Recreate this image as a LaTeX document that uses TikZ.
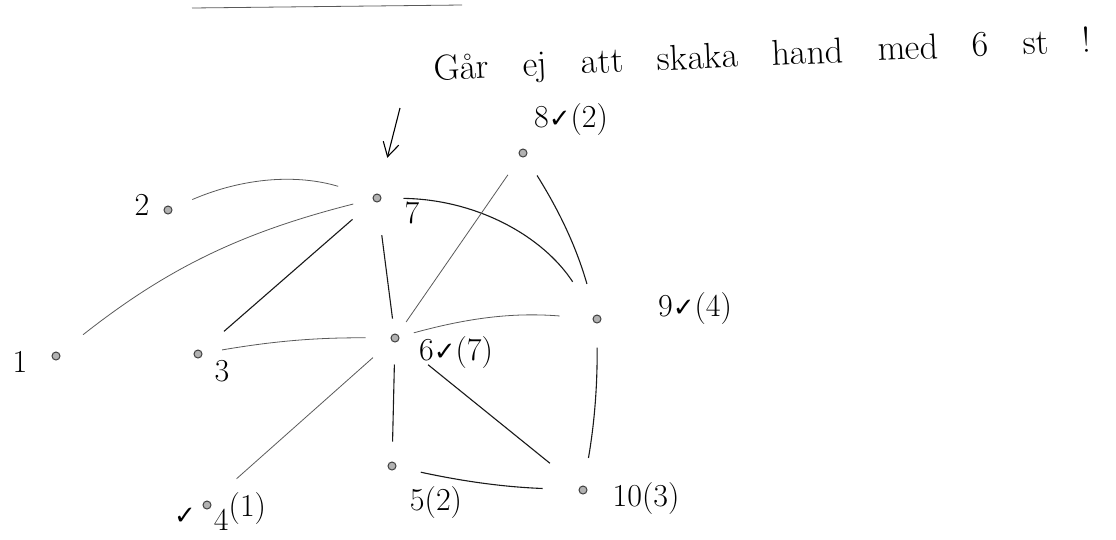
\documentclass[tikz,border=0pt]{standalone}
\usepackage{fontspec}
\usepackage{tikz}
\usetikzlibrary{arrows.meta, positioning}
\newfontfamily\checkfont{DejaVu Sans}
\newcommand{\chk}{{\checkfont\fontsize{26}{28}\selectfont ✓}}

\begin{document}
\begin{tikzpicture}[
x=1pt, y=-1pt,
    vertex/.style={circle, draw=black!75, fill=black!30, line width=1pt, minimum size=8pt, inner sep=0pt},
    tag/.style={inner sep=0pt, font=\fontsize{32}{34}\selectfont},
    note/.style={inner sep=0pt, anchor=base, font=\fontsize{36}{38}\selectfont, execute at begin node={\spaceskip=34pt\relax}},
    edge/.style={draw, line width=0.8pt, black!65},
    darkedge/.style={draw, line width=1.1pt, black!90},
    pointer/.style={draw, line width=1.1pt, -{Straight Barb[length=14pt, width=16pt]}}
]
    \useasboundingbox (0,0) rectangle (1116,539);

    % --- Heading ---
    \coordinate (rulestart) at (192,8);
    \coordinate (ruleend) at (462,5);
    \draw[edge] (rulestart) -- (ruleend);
    \node[note, rotate=2.5] (title) at (763,66) {Går ej att skaka hand med 6 st !};

    % --- Vertices ---
    \node[vertex] (n1) at (56,356) {};
    \node[vertex] (n2) at (168,210) {};
    \node[vertex] (n3) at (198,354) {};
    \node[vertex] (n4) at (207,505) {};
    \node[vertex] (n5) at (392,466) {};
    \node[vertex] (n6) at (395,338) {};
    \node[vertex] (n7) at (377,198) {};
    \node[vertex] (n8) at (523,153) {};
    \node[vertex] (n9) at (597,319) {};
    \node[vertex] (n10) at (583,490) {};

    % Labels
    \node[tag] (l1) at (20,362) {1};
    \node[tag] (l2) at (142,205) {2};
    \node[tag] (l3) at (222,371) {3};
    \node[tag] (c4) at (185,516) {\chk};
    \node[tag] (l4) at (240,512) {\raisebox{-14pt}{4}(1)};
    \node[tag] (l5) at (436,503) {5(2)};
    \node[tag] (l6) at (456,353) {6\chk(7)};
    \node[tag] (l7) at (412,213) {7};
    \node[tag] (l8) at (571,120) {8\chk(2)};
    \node[tag] (l9) at (695,309) {9\chk(4)};
    \node[tag] (l10) at (646,499) {10(3)};

    % --- Arrow to vertex 7 ---
    \coordinate (arrowtail) at (400,108);
    \draw[pointer, shorten >=37pt] (arrowtail) -- (n7);

    % --- Edges ---
    \draw[edge, shorten <=22pt, shorten >=36pt] (n2) to[bend left=20] (n7);
    \draw[edge, shorten <=30pt, shorten >=20pt] (n1) to[bend left=12] (n7);
    \draw[darkedge, shorten <=30pt, shorten >=28pt] (n3) -- (n7);
    \draw[edge, shorten <=20pt, shorten >=25pt] (n3) to[bend left=5] (n6);
    \draw[darkedge, shorten <=33pt, shorten >=15pt] (n7) -- (n6);
    \draw[darkedge, shorten <=22pt, shorten >=40pt] (n7) to[bend left=28] (n9);
    \draw[edge, shorten <=22pt, shorten >=15pt] (n8) -- (n6);
    \draw[darkedge, shorten <=22pt, shorten >=32pt] (n8) to[bend left=8] (n9);
    \draw[edge, shorten <=15pt, shorten >=33pt] (n6) to[bend left=10] (n9);
    \draw[darkedge, shorten <=24pt, shorten >=28pt] (n9) to[bend left=5] (n10);
    \draw[edge, shorten <=35pt, shorten >=25pt] (n4) -- (n6);
    \draw[darkedge, shorten <=22pt, shorten >=20pt] (n6) -- (n5);
    \draw[darkedge, shorten <=38pt, shorten >=38pt] (n6) -- (n10);
    \draw[darkedge, shorten <=25pt, shorten >=36pt] (n5) to[bend right=5] (n10);

\end{tikzpicture}
\end{document}
